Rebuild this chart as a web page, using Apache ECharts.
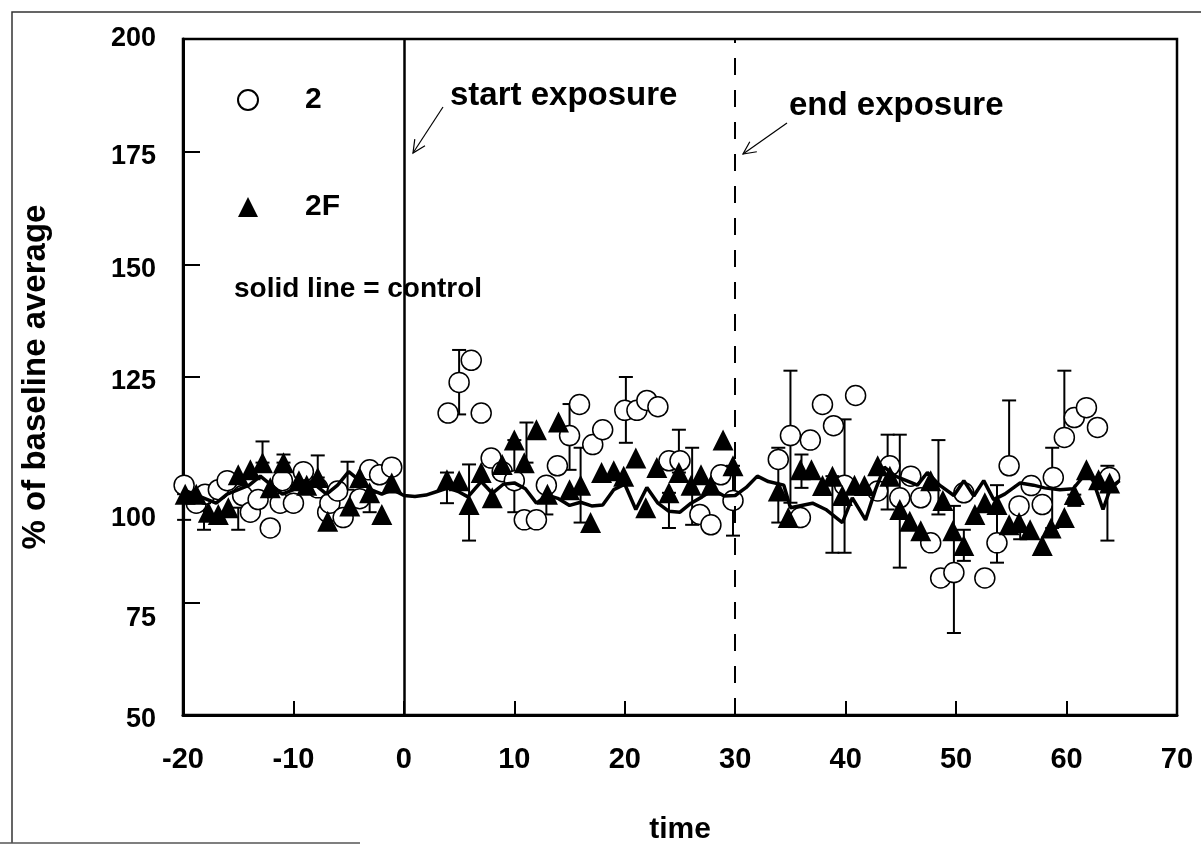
<!DOCTYPE html>
<html>
<head>
<meta charset="utf-8">
<title>% of baseline average vs time</title>
<script src="https://cdn.jsdelivr.net/npm/echarts@6/dist/echarts.min.js"></script>
<style>
  html, body { margin: 0; padding: 0; background: #fff; }
  #chart { width: 1201px; height: 851px; }
</style>
</head>
<body>
<div id="chart"></div>
<script>
// values: [time, % of baseline]
const series2 = [
  [-19.9, 101], [-18.8, 97], [-18, 99], [-16.8, 100], [-16, 102], [-14.6, 98.7],
  [-13.9, 95], [-13.2, 97.8], [-12.1, 91.5], [-11.2, 97], [-11, 102], [-10, 97],
  [-9.1, 104], [-7.8, 100.4], [-6.9, 95], [-6.7, 97], [-6, 99.7], [-5.5, 93.8],
  [-4, 98], [-3.1, 104.4], [-2.2, 103.3], [-1.1, 105],
  [4, 117], [5, 123.8], [6.1, 128.7], [7, 117], [7.9, 107], [8.9, 104], [10, 102],
  [10.9, 93.3], [12, 93.3], [12.9, 101], [13.9, 105.3], [15, 112], [15.9, 118.9],
  [17.1, 110], [18, 113.3], [20, 117.6], [21.1, 117.6], [22, 119.8], [23, 118.4],
  [24, 106.4], [25, 106.4], [26.8, 94.5], [27.8, 92.2], [28.7, 103.3], [29.8, 97.6],
  [33.9, 106.7], [35, 112], [35.9, 93.8], [36.8, 111], [37.9, 118.9], [38.9, 114.2],
  [39.9, 101], [40.9, 120.9], [42.9, 99.7], [44, 105.3], [44.9, 98.2], [45.9, 103],
  [46.8, 98.2], [47.7, 88.2], [48.6, 80.4], [49.8, 81.6], [50.7, 99.3], [52.6, 80.4],
  [53.7, 88.2], [54.8, 105.3], [55.7, 96.4], [56.8, 100.9], [57.8, 96.7], [58.8, 102.7],
  [59.8, 111.6], [60.7, 116], [61.8, 118.2], [62.8, 113.8], [63.9, 102.7]
];

const series2F = [
  [-19.8, 99], [-18.8, 99], [-17.7, 95], [-16.8, 94.5], [-15.9, 96], [-15, 103.3],
  [-13.9, 104.4], [-12.8, 106], [-12.1, 100.4], [-10.9, 106], [-9.5, 102], [-8.8, 101],
  [-7.8, 102.7], [-6.9, 93], [-4.9, 96.4], [-4, 102.7], [-3.1, 99.3], [-2, 94.5], [-1.1, 101.5],
  [3.9, 102.2], [5, 102], [5.9, 96.7], [7, 103.8], [8, 98.2], [8.9, 105.6], [10, 111],
  [10.9, 106], [12, 113.3], [13, 99], [14, 115], [15, 100], [16, 101], [16.9, 92.7],
  [17.9, 103.8], [19, 104.2], [19.9, 103], [21, 107], [21.9, 96], [22.9, 104.9], [24, 99.3],
  [24.9, 103.8], [26, 101], [26.9, 103.3], [27.8, 101], [28.9, 111], [29.8, 105.3],
  [33.9, 99.7], [34.8, 93.8], [35.9, 104.4], [36.9, 104.4], [37.9, 100.9], [38.8, 103],
  [39.7, 98.7], [40.8, 101], [41.7, 100.9], [42.9, 105.3], [44, 103], [44.9, 95.6],
  [45.8, 93], [46.8, 90.9], [47.7, 102], [48.8, 97.6], [49.7, 90.9], [50.7, 87.6],
  [51.7, 94.5], [52.6, 97.1], [53.7, 96.7], [54.8, 92.2], [55.7, 92.7], [56.7, 91.1],
  [57.8, 87.6], [58.6, 91.5], [59.8, 93.8], [60.7, 98.9], [61.8, 104.4], [62.9, 102.2],
  [63.9, 101.5]
];

const control = [
  [-20, 100], [-19, 99], [-18, 98], [-17, 97], [-16, 99], [-15, 100], [-14, 101],
  [-13, 103], [-12, 101], [-11, 99], [-10, 100], [-9, 102], [-8, 101], [-7, 99],
  [-6, 101], [-5, 104], [-4, 102], [-3, 100], [-2, 99], [-1, 100], [0, 98.7],
  [1, 98.5], [2, 98.8], [3, 99.6], [4, 100.4], [5, 99.5], [5.8, 98.4], [7, 101.8],
  [8, 99.2], [9, 101.2], [10, 101.5], [11, 100.2], [12, 97], [13, 98.8], [14, 98],
  [15, 96.5], [16, 97.2], [17, 96.4], [18, 96.6], [19, 100], [20, 101.2], [21, 95.6],
  [22, 100.5], [23, 97], [24, 95.2], [25, 95], [26, 97], [27, 98.4], [28, 100],
  [29, 98.6], [30, 98.7], [31, 100.5], [32, 103], [33, 101.8], [34.4, 101], [35, 96],
  [37, 97], [38.2, 95.6], [39.7, 92.7], [40.6, 98.2], [41.8, 93.3], [42.7, 100],
  [43.5, 105], [44.5, 103], [45.5, 102], [46.5, 101], [47.4, 103.8], [48.5, 101],
  [49.8, 98.7], [50.7, 102], [51.6, 98.6], [52.5, 102], [53.4, 97.8], [54.4, 99],
  [55.8, 101.5], [57, 101], [58, 100.4], [59.4, 100], [60.6, 100.2], [61.8, 103.8],
  [62.4, 102], [63.3, 95.6], [64, 100.5], [64.8, 102]
];

// error bars: [time, low end, high end]
const errorBars = [
  [-19.9, 93.3, 99], [-18.1, 91.1, 97], [-15, 91.1, 96], [-12.8, 106, 110.7],
  [-10.9, 106, 107.8], [-7.8, 102.7, 107.6], [-5.1, 100, 106.2], [-3.1, 95, 99.3],
  [3.9, 97, 103.8], [5, 116.7, 131], [5.9, 88.7, 105.6], [10, 95, 111],
  [11.1, 106, 114.9], [12.9, 94.5, 101], [15, 104.4, 119], [16, 92.7, 109.3],
  [20.1, 110.4, 125], [24, 91.5, 99.3], [24.9, 103.8, 113.3], [26.1, 92.2, 109.3],
  [29.8, 89.8, 105.3],
  [33.9, 92.7, 109.3], [35, 97.1, 126.4], [36, 100.4, 107.8], [38.8, 86, 103],
  [39.9, 86, 115.6], [43.8, 95.6, 112.2], [44.9, 82.7, 112.2], [48.4, 94.5, 111],
  [49.8, 68.2, 96.4], [50.7, 84.2, 91.1], [53.7, 83.8, 101], [54.8, 105.3, 119.8],
  [55.8, 89, 96.4], [58.7, 91.5, 109.3], [59.8, 111.6, 126.4], [60.7, 96.4, 98.9],
  [63.7, 88.7, 105.3]
];

const startExposure = 0;
const endExposure = 30;

const FONT = '"Liberation Sans", Arial, sans-serif';

// small helper for the hand-drawn annotation arrows
function arrow(x1, y1, x2, y2) {
  const a = Math.atan2(y2 - y1, x2 - x1);
  const L = 14, s = 0.45;
  return {
    type: 'group',
    children: [
      { type: 'line', shape: { x1: x1, y1: y1, x2: x2, y2: y2 }, style: { stroke: '#000', lineWidth: 1.2 } },
      {
        type: 'polyline',
        shape: {
          points: [
            [x2 - L * Math.cos(a - s), y2 - L * Math.sin(a - s)],
            [x2, y2],
            [x2 - L * Math.cos(a + s), y2 - L * Math.sin(a + s)]
          ]
        },
        style: { stroke: '#000', lineWidth: 1.2, fill: null }
      }
    ]
  };
}

const chart = echarts.init(document.getElementById('chart'));

const option = {
  backgroundColor: '#fff',
  animation: false,
  textStyle: { fontFamily: FONT, color: '#000' },
  grid: {
    left: 183, right: 24, top: 39, bottom: 136,
    show: true, borderColor: '#000', borderWidth: 2.5
  },
  legend: {
    data: ['2', '2F'],
    orient: 'vertical',
    left: 232, top: 80,
    itemWidth: 20, itemHeight: 20, itemGap: 77,
    textStyle: { fontFamily: FONT, fontSize: 30, fontWeight: 'bold', color: '#000', lineHeight: 30, padding: [0, 0, 0, 42] }
  },
  xAxis: {
    type: 'value',
    min: -20, max: 70, interval: 10,
    name: 'time',
    nameLocation: 'middle',
    nameGap: 100,
    nameTextStyle: { fontFamily: FONT, fontSize: 30, fontWeight: 'bold', color: '#000' },
    axisLine: { onZero: false, lineStyle: { color: '#000', width: 3 } },
    axisTick: { inside: true, length: 14, lineStyle: { color: '#000', width: 2 } },
    axisLabel: { fontFamily: FONT, fontSize: 29, fontWeight: 'bold', color: '#000', margin: 30 },
    splitLine: { show: false }
  },
  yAxis: {
    type: 'value',
    min: 50, max: 200, interval: 25,
    name: '% of baseline average',
    nameLocation: 'middle',
    nameGap: 131,
    nameTextStyle: { fontFamily: FONT, fontSize: 33, fontWeight: 'bold', color: '#000' },
    axisLine: { onZero: false, lineStyle: { color: '#000', width: 3 } },
    axisTick: { inside: true, length: 17, lineStyle: { color: '#000', width: 2 } },
    axisLabel: {
      fontFamily: FONT, fontSize: 27, fontWeight: 'bold', color: '#000', margin: 27,
      formatter: function (v) {
        if (v === 100) return '{a|' + v + '}';
        if (v === 75) return '{b|' + v + '}';
        if (v === 200) return '{d|' + v + '}';
        return '{c|' + v + '}';
      },
      rich: {
        a: { fontFamily: FONT, fontSize: 27, fontWeight: 'bold', color: '#000', padding: [58, 0, 0, 0] },
        b: { fontFamily: FONT, fontSize: 27, fontWeight: 'bold', color: '#000', padding: [32, 0, 0, 0] },
        c: { fontFamily: FONT, fontSize: 27, fontWeight: 'bold', color: '#000', padding: [10, 0, 0, 0] },
        d: { fontFamily: FONT, fontSize: 27, fontWeight: 'bold', color: '#000' }
      }
    },
    splitLine: { show: false }
  },
  series: [
    {
      name: 'errors',
      type: 'custom',
      data: errorBars,
      encode: { x: 0, y: [1, 2] },
      z: 2,
      silent: true,
      renderItem: function (params, api) {
        const x = api.value(0);
        const lo = api.coord([x, api.value(1)]);
        const hi = api.coord([x, api.value(2)]);
        const w = 7;
        const st = { stroke: '#000', lineWidth: 2 };
        return {
          type: 'group',
          children: [
            { type: 'line', shape: { x1: lo[0], y1: lo[1], x2: hi[0], y2: hi[1] }, style: st },
            { type: 'line', shape: { x1: lo[0] - w, y1: lo[1], x2: lo[0] + w, y2: lo[1] }, style: st },
            { type: 'line', shape: { x1: hi[0] - w, y1: hi[1], x2: hi[0] + w, y2: hi[1] }, style: st }
          ]
        };
      }
    },
    {
      name: '2',
      type: 'scatter',
      data: series2,
      symbol: 'circle',
      symbolSize: 20,
      z: 3,
      itemStyle: { color: '#fff', borderColor: '#000', borderWidth: 1.5, opacity: 1 }
    },
    {
      name: '2F',
      type: 'scatter',
      data: series2F,
      symbol: 'triangle',
      symbolSize: [21, 21],
      z: 4,
      itemStyle: { color: '#000', opacity: 1 }
    },
    {
      name: 'control',
      type: 'line',
      data: control,
      showSymbol: false,
      z: 5,
      lineStyle: { color: '#000', width: 3.5 },
      markLine: {
        silent: true,
        symbol: 'none',
        label: { show: false },
        data: [
          { xAxis: startExposure, lineStyle: { color: '#000', width: 2.5, type: 'solid' } },
          { xAxis: endExposure, lineStyle: { color: '#000', width: 2, type: [17, 15] } }
        ]
      }
    }
  ],
  graphic: [
    // scanned page frame
    { type: 'polyline', shape: { points: [[12, 843], [12, 12], [1201, 12]] }, style: { stroke: '#333', lineWidth: 1.5, fill: null } },
    { type: 'line', shape: { x1: 0, y1: 843, x2: 360, y2: 843 }, style: { stroke: '#555', lineWidth: 1.5 } },
    {
      type: 'text', left: 450, top: 79,
      style: { text: 'start exposure', font: 'bold 33px ' + FONT, fill: '#000' }
    },
    {
      type: 'text', left: 789, top: 89,
      style: { text: 'end exposure', font: 'bold 33px ' + FONT, fill: '#000' }
    },
    {
      type: 'text', left: 234, top: 275,
      style: { text: 'solid line = control', font: 'bold 28px ' + FONT, fill: '#000' }
    },
    arrow(443, 107, 413, 153),
    arrow(787, 123, 743, 154)
  ]
};

chart.setOption(option);
</script>
</body>
</html>
